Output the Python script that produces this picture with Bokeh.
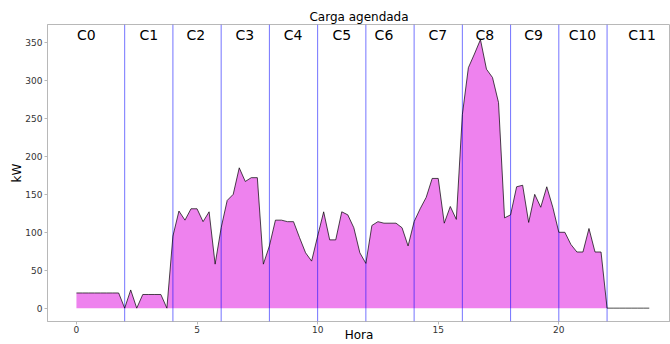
import numpy as np
from bokeh.plotting import figure
from bokeh.models import Span, ColumnDataSource, FixedTicker
from bokeh.core.properties import value
from bokeh.embed import file_html
from bokeh.resources import INLINE

# Data: scheduled load (kW) every 15 minutes
hours = [i * 0.25 for i in range(96)]
load_kw = [
    20, 20, 20, 20,
    20, 20, 20, 20,
    0, 24, 0, 18,
    18, 18, 18, 0,
    95, 128, 116, 131,
    131, 114, 127, 58,
    106, 142, 150, 185,
    167, 172, 172, 58,
    82, 116, 116, 114,
    114, 93, 73, 62,
    95, 127, 90, 90,
    127, 123, 106, 73,
    59, 109, 114, 112,
    112, 112, 106, 82,
    114, 131, 146, 171,
    171, 112, 134, 117,
    255, 317, 335, 354,
    315, 304, 271, 119,
    123, 160, 162, 113,
    150, 133, 160, 133,
    100, 100, 84, 74,
    74, 105, 74, 74,
    0, 0, 0, 0,
    0, 0, 0, 0,
]
boundaries = [2, 4, 6, 8, 10, 12, 14, 16, 18, 20, 22]
cluster_labels = ["C0", "C1", "C2", "C3", "C4", "C5", "C6", "C7", "C8", "C9", "C10", "C11"]
cluster_label_x = [0.41, 3.0, 4.95, 6.98, 8.98, 11.0, 12.75, 14.98, 16.93, 18.95, 20.98, 23.45]
x_ticks = [0, 5, 10, 15, 20]
y_ticks = [0, 50, 100, 150, 200, 250, 300, 350]

FONT = "DejaVu Sans"
AX = "#b8b8b8"

p = figure(width=670, height=344, output_backend="svg", toolbar_location=None,
           x_range=(-1.20, 24.63), y_range=(-17.6, 373.9),
           title="Carga agendada", x_axis_label="Hora", y_axis_label="kW",
           min_border_left=47, min_border_right=0, min_border_top=24, min_border_bottom=23)
p.background_fill_color = "white"
p.border_fill_color = "white"
p.outline_line_color = AX
p.grid.visible = False

p.title.align = "center"
p.title.text_font = FONT
p.title.text_font_size = "12px"
p.title.text_font_style = "normal"
p.title.text_color = "black"
p.title.standoff = 2
p.title.offset = 3

src = ColumnDataSource(dict(x=hours, y=load_kw))
p.varea(x="x", y1=0, y2="y", source=src, fill_color="violet", fill_alpha=1.0)
for b in boundaries:
    p.add_layout(Span(location=b, dimension="height", line_color="blue", line_alpha=0.55, line_width=1))
p.line(x="x", y="y", source=src, line_color="black", line_alpha=0.7, line_width=1, level="overlay")

lab_src = ColumnDataSource(dict(x=cluster_label_x, y=[360.3] * len(cluster_labels), t=cluster_labels))
p.text(x="x", y="y", text="t", source=lab_src, text_font=value(FONT), text_font_size="14px",
       text_align="center", text_baseline="middle", text_color="black")

for ax in (p.xaxis[0], p.yaxis[0]):
    ax.axis_line_color = AX
    ax.major_tick_line_color = AX
    ax.major_tick_out = 3
    ax.major_tick_in = 0
    ax.minor_tick_line_color = None
    ax.major_label_text_font = FONT
    ax.major_label_text_font_size = "9px"
    ax.major_label_text_color = "#333333"
    ax.axis_label_text_font = FONT
    ax.axis_label_text_font_size = "12px"
    ax.axis_label_text_font_style = "normal"
    ax.axis_label_text_color = "black"
p.xaxis[0].ticker = FixedTicker(ticks=x_ticks)
p.yaxis[0].ticker = FixedTicker(ticks=y_ticks)
p.xaxis[0].major_label_standoff = 1
p.yaxis[0].major_label_standoff = 2
p.xaxis[0].axis_label_standoff = -8
p.yaxis[0].axis_label_standoff = -2

open("out.html", "w").write(file_html(p, INLINE))
